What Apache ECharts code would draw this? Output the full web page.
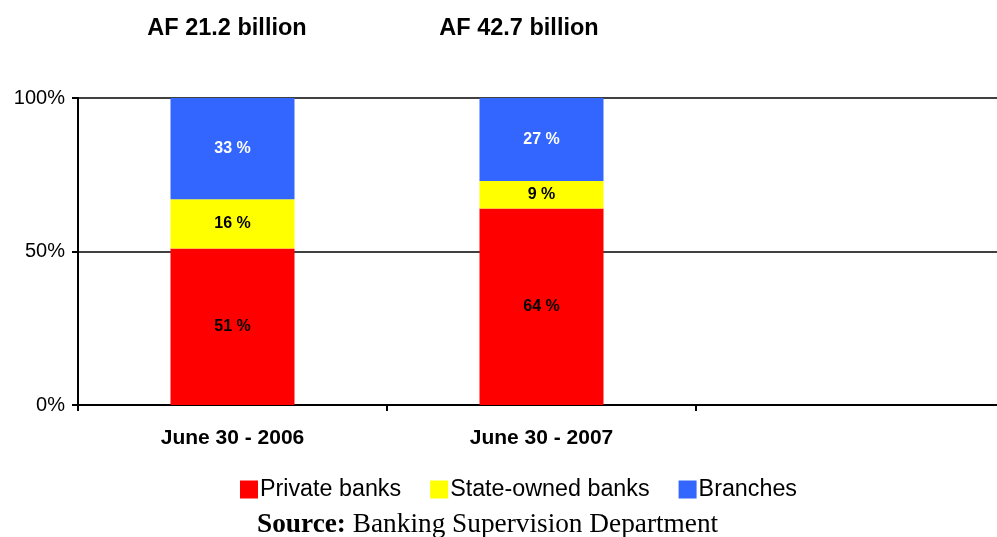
<!DOCTYPE html>
<html>
<head>
<meta charset="utf-8">
<script src="https://cdn.jsdelivr.net/npm/echarts@6/dist/echarts.min.js"></script>
<style>html,body{margin:0;padding:0;background:#fff}#c{width:997px;height:537px}</style>
</head>
<body>
<div id="c"></div>
<script>
var categories = ['June 30 - 2006', 'June 30 - 2007', ''];
var totals = ['AF 21.2 billion', 'AF 42.7 billion'];
var privateBanks = [51, 64, null];
var stateOwned = [16, 9, null];
var branches = [33, 27, null];
var yTicks = [0, 50, 100];

var chart = echarts.init(document.getElementById('c'));
var font = 'Liberation Sans, Arial, sans-serif';
function lbl(color) {
  return {show: true, position: 'inside', color: color, fontFamily: font, fontWeight: 'bold', fontSize: 16,
    formatter: function (p) { return p.value + ' %'; }};
}
chart.setOption({
  animation: false,
  title: [
    {text: totals[0], left: 222, top: 12, textAlign: 'center', textStyle: {fontFamily: font, fontWeight: 'bold', fontSize: 23.5, color: '#000'}},
    {text: totals[1], left: 514, top: 12, textAlign: 'center', textStyle: {fontFamily: font, fontWeight: 'bold', fontSize: 23.5, color: '#000'}}
  ],
  grid: {left: 78, top: 98, height: 307, width: 927, containLabel: false, outerBoundsMode: 'none'},
  legend: {
    data: ['Private banks', 'State-owned banks', 'Branches'],
    left: 240, top: 478, padding: 0, icon: 'rect', itemWidth: 18, itemHeight: 18, itemGap: 29,
    textStyle: {fontFamily: font, fontSize: 23.3, color: '#000', padding: [0, 0, 0, -3]}
  },
  xAxis: {
    type: 'category', data: categories,
    axisLine: {lineStyle: {color: '#000', width: 2}},
    axisTick: {show: true, length: 6, lineStyle: {color: '#000', width: 2}},
    axisLabel: {color: '#000', fontFamily: font, fontWeight: 'bold', fontSize: 21, margin: 23}
  },
  yAxis: {
    type: 'value', min: 0, max: 100, interval: 50,
    axisLine: {show: true, lineStyle: {color: '#000', width: 2}},
    axisTick: {show: true, length: 6, lineStyle: {color: '#000', width: 2}},
    splitLine: {lineStyle: {color: '#000', width: 1.5}},
    axisLabel: {color: '#000', fontFamily: font, fontSize: 20, margin: 13,
      formatter: function (v) { return yTicks.indexOf(v) >= 0 ? v + '%' : ''; }}
  },
  series: [
    {name: 'Private banks', type: 'bar', stack: 's', data: privateBanks, barWidth: 124, itemStyle: {color: '#FF0000'}, label: lbl('#000')},
    {name: 'State-owned banks', type: 'bar', stack: 's', data: stateOwned, barWidth: 124, itemStyle: {color: '#FFFF00'}, label: lbl('#000')},
    {name: 'Branches', type: 'bar', stack: 's', data: branches, barWidth: 124, itemStyle: {color: '#3366FF'}, label: lbl('#fff')}
  ],
  graphic: [{
    type: 'text', left: 257, top: 511,
    style: {
      text: '{b|Source:} Banking Supervision Department',
      rich: {b: {fontWeight: 'bold', fontFamily: 'Liberation Serif, serif', fontSize: 27.3, fill: '#000'}},
      fontFamily: 'Liberation Serif, serif', fontSize: 27.3, fill: '#000'
    }
  }]
});
</script>
</body>
</html>
